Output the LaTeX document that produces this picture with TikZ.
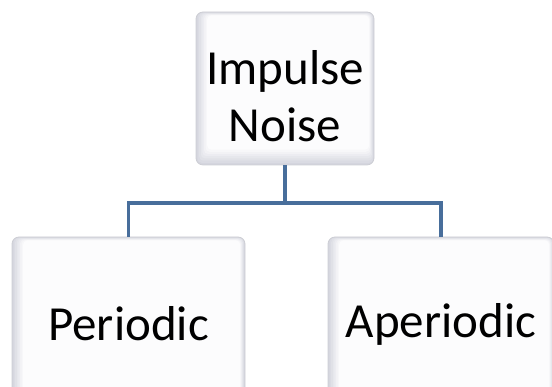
\documentclass[tikz,border=0pt]{standalone}
\usepackage{fontspec}
\setmainfont{Carlito}
\definecolor{conncol}{RGB}{72,110,155}
\definecolor{bevel}{RGB}{212,213,222}
\definecolor{edgecol}{RGB}{205,206,212}
\definecolor{facecol}{RGB}{252,252,253}
\newcommand{\bevelstep}[3]{%
  \fill[#1, rounded corners=4pt]
    ([shift={(#2*1.6pt,-#2*0.5pt)}]path picture bounding box.north west)
    rectangle ([shift={(-#2*0.7pt,#2*#3)}]path picture bounding box.south east);}
\tikzset{
  box/.style={draw=edgecol, line width=0.8pt, fill=bevel, rounded corners=7pt,
    inner sep=0pt,
    path picture={
      \bevelstep{bevel!85!facecol}{1}{2.2pt}
      \bevelstep{bevel!70!facecol}{2}{2.2pt}
      \bevelstep{bevel!55!facecol}{3}{2.2pt}
      \bevelstep{bevel!40!facecol}{4}{2.2pt}
      \bevelstep{bevel!25!facecol}{5}{2.2pt}
      \bevelstep{bevel!12!facecol}{6}{2.2pt}
      \bevelstep{facecol}{7}{2.2pt}
    }},
  boxtext/.style={align=center, inner sep=0pt, font=\fontsize{49}{57}\selectfont},
  conn/.style={draw=conncol, line width=3.5pt}
}
\begin{document}
\begin{tikzpicture}[x=1pt,y=1pt]
\useasboundingbox (0,0) rectangle (552,387);
\clip (0,0) rectangle (552,387);
\node[box, minimum width=178pt, minimum height=153pt] (top) at (285,298.5) {};
\node[box, minimum width=233pt, minimum height=174pt] (left) at (128.5,63) {};
\node[box, minimum width=226pt, minimum height=174pt] (right) at (441,63) {};
\node[boxtext] (toptext) at (285,291) {Impulse\\Noise};
\node[boxtext] (lefttext) at (128.5,63) {Periodic};
\node[boxtext] (righttext) at (441,63) {Aperiodic};
\coordinate (mid) at (285,184);
\draw[conn] (top.south) -- (mid);
\draw[conn] (left.north) |- (mid) -| (right.north);
\end{tikzpicture}
\end{document}
